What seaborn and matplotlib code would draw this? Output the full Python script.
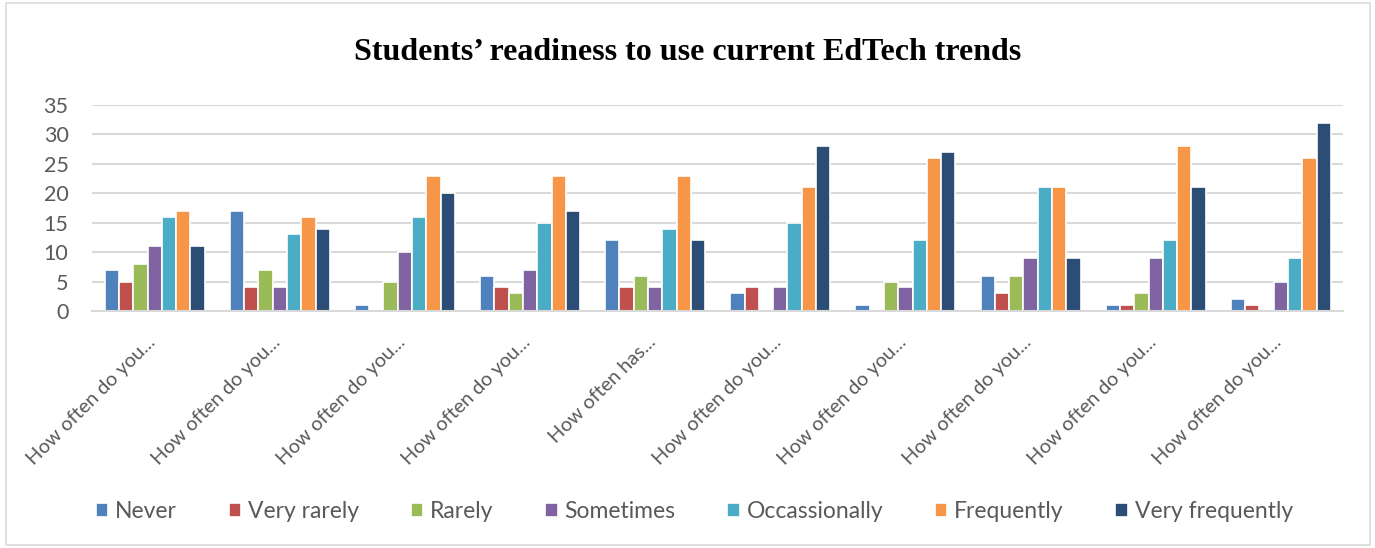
import matplotlib
matplotlib.use("Agg")
import matplotlib.pyplot as plt
import matplotlib.transforms as mtransforms
from matplotlib.patches import Rectangle
import seaborn as sns
import pandas as pd

title = "Students\u2019 readiness to use current EdTech trends"
questions = [
    "How often do you...", "How often do you...", "How often do you...",
    "How often do you...", "How often has...", "How often do you...",
    "How often do you...", "How often do you...", "How often do you...",
    "How often do you...",
]
levels = ["Never", "Very rarely", "Rarely", "Sometimes",
          "Occassionally", "Frequently", "Very frequently"]

never = [7, 17, 1, 6, 12, 3, 1, 6, 1, 2]
very_rarely = [5, 4, 0, 4, 4, 4, 0, 3, 1, 1]
rarely = [8, 7, 5, 3, 6, 0, 5, 6, 3, 0]
sometimes = [11, 4, 10, 7, 4, 4, 4, 9, 9, 5]
occasionally = [16, 13, 16, 15, 14, 15, 12, 21, 12, 9]
frequently = [17, 16, 23, 23, 23, 21, 26, 21, 28, 26]
very_frequently = [11, 14, 20, 17, 12, 28, 27, 9, 21, 32]

palette = ["#4F81BD", "#C0504D", "#9BBB59", "#8064A2",
           "#4BACC6", "#F79646", "#2C4D75"]

series = [never, very_rarely, rarely, sometimes,
          occasionally, frequently, very_frequently]
rows = []
for lvl, vals in zip(levels, series):
    for qi, v in enumerate(vals):
        rows.append({"q": qi, "level": lvl, "count": v})
df = pd.DataFrame(rows)

sns.set_theme(style="white")
plt.rcParams["font.family"] = ["Lato", "DejaVu Sans"]

fig = plt.figure(figsize=(13.75, 5.48), dpi=100)
ax = fig.add_axes([0.067, 0.4325, 0.910, 0.3759])

sns.barplot(data=df, x="q", y="count", hue="level", hue_order=levels,
            palette=palette, width=0.8, edgecolor="white", linewidth=1.2,
            saturation=1, ax=ax, legend=True)

ax.set_ylim(0, 35)
ax.set_xlim(-0.5, len(questions) - 0.5)
ax.set_yticks(range(0, 36, 5))
ax.yaxis.grid(True, color="#D9D9D9", linewidth=1.5)
ax.set_axisbelow(True)
for s in ["top", "right", "left"]:
    ax.spines[s].set_visible(False)
ax.spines["bottom"].set_color("#D9D9D9")
ax.spines["bottom"].set_linewidth(1.5)
ax.set_xlabel("")
ax.set_ylabel("")
ax.tick_params(axis="y", colors="#595959", labelsize=15.5, length=0, pad=17)
ax.tick_params(axis="x", colors="#595959", length=0, pad=16)
ax.set_xticks(range(len(questions)))
ax.set_xticklabels(questions, rotation=45, ha="right", va="top",
                   rotation_mode="anchor", fontsize=14.3)
shift = mtransforms.ScaledTranslation(-8 / 100, 0, fig.dpi_scale_trans)
for lab in ax.get_xticklabels():
    lab.set_transform(lab.get_transform() + shift)

handles, labels = ax.get_legend_handles_labels()
ax.get_legend().remove()
fig.legend(handles, labels, loc="center", bbox_to_anchor=(0.505, 0.066),
           ncol=7, frameon=False, fontsize=16.5, labelcolor="#595959",
           handlelength=0.55, handleheight=0.55, handletextpad=0.3,
           columnspacing=2.25)

fig.text(0.5, 0.905, title, ha="center", va="center",
         fontsize=23, fontweight="bold", family="Liberation Serif",
         color="black")

fig.patches.append(Rectangle((0.004, 0.006), 0.992, 0.988,
                             transform=fig.transFigure, fill=False,
                             edgecolor="#D9D9D9", linewidth=1.2))

fig.savefig("out.png", dpi=100)
